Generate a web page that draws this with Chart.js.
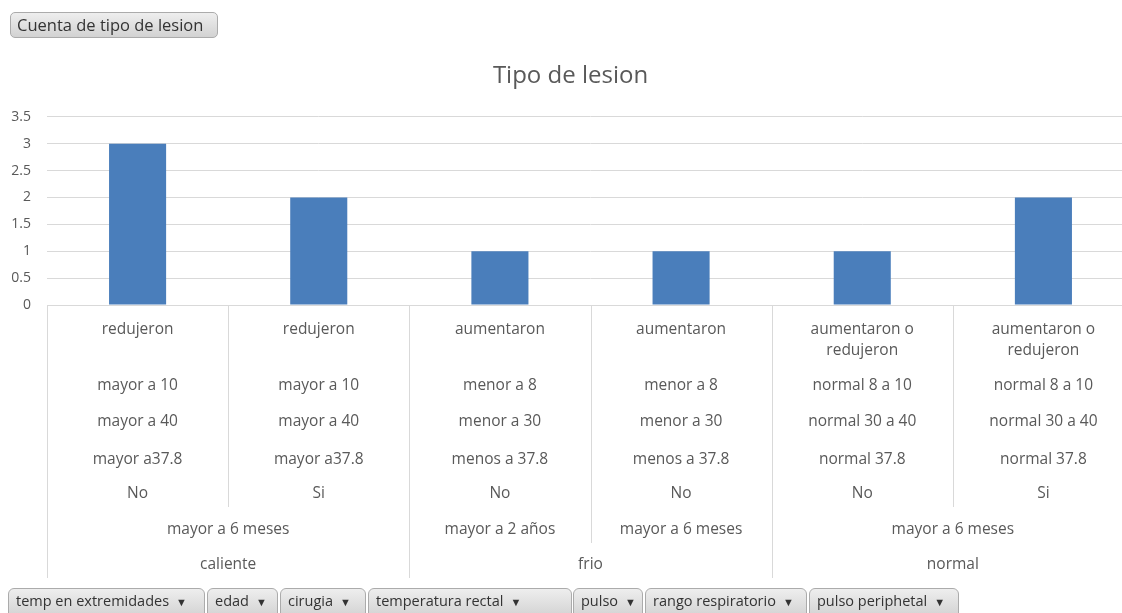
<!DOCTYPE html>
<html>
<head>
<meta charset="utf-8">
<script src="https://cdn.jsdelivr.net/npm/chart.js@4.4.0/dist/chart.umd.min.js"></script>
<style>
  html, body { margin: 0; padding: 0; background: #fff; overflow: hidden; width: 1122px; height: 613px; }
  #wrap { position: absolute; left: 0; top: 0; width: 1134px; height: 613px; }
  .btn {
    position: absolute; box-sizing: border-box; height: 26px;
    font-family: "Open Sans", sans-serif; font-size: 14px; color: #333;
    line-height: 24px; white-space: nowrap; padding: 0 7px;
    background: linear-gradient(#eeeeee, #d2d2d2);
    border: 1px solid #ababab; border-radius: 5px;
  }
  .top { font-size: 16.5px; padding: 0 6px; }
  .tab { top: 588px; height: 30px; border-radius: 6px 6px 0 0; font-size: 14.5px; }
  .tab .arr { font-size: 11px; margin-left: 7px; color: #333; }
</style>
</head>
<body>
<div id="wrap"><canvas id="chart" width="1134" height="613"></canvas></div>
<div class="btn top" style="left:10px; top:12px; width:208px;">Cuenta de tipo de lesion</div>
<div class="btn tab" style="left:8px; width:197px;">temp en extremidades<span class="arr">▼</span></div>
<div class="btn tab" style="left:207px; width:71px;">edad<span class="arr">▼</span></div>
<div class="btn tab" style="left:280px; width:86px;">cirugia<span class="arr">▼</span></div>
<div class="btn tab" style="left:368px; width:204px;">temperatura rectal<span class="arr">▼</span></div>
<div class="btn tab" style="left:573px; width:70px;">pulso<span class="arr">▼</span></div>
<div class="btn tab" style="left:645px; width:162px;">rango respiratorio<span class="arr">▼</span></div>
<div class="btn tab" style="left:809px; width:150px;">pulso periphetal<span class="arr">▼</span></div>
<script>
// category fields, outer -> inner
const tempExtremidades = ["caliente", "caliente", "frio", "frio", "normal", "normal"];
const edad = ["mayor a 6 meses", "mayor a 6 meses", "mayor a 2 años", "mayor a 6 meses", "mayor a 6 meses", "mayor a 6 meses"];
const cirugia = ["No", "Si", "No", "No", "No", "Si"];
const temperaturaRectal = ["mayor a37.8", "mayor a37.8", "menos a 37.8", "menos a 37.8", "normal 37.8", "normal 37.8"];
const pulso = ["mayor a 40", "mayor a 40", "menor a 30", "menor a 30", "normal 30 a 40", "normal 30 a 40"];
const rangoRespiratorio = ["mayor a 10", "mayor a 10", "menor a 8", "menor a 8", "normal 8 a 10", "normal 8 a 10"];
const pulsoPeriphetal = ["redujeron", "redujeron", "aumentaron", "aumentaron", "aumentaron o redujeron", "aumentaron o redujeron"];

// series
const cuenta = [3, 2, 1, 1, 1, 2];

// y ticks
const yMin = 0, yMax = 3.5, yStep = 0.5;

const levels = [tempExtremidades, edad, cirugia, temperaturaRectal, pulso, rangoRespiratorio, pulsoPeriphetal];
// offset of each level's row below the axis line
const rowOffset = [260, 225, 189, 155, 117, 81, 25];

const textColor = "#595959";
const lineColor = "#d9d9d9";
const font = '"Open Sans", sans-serif';

function wrapText(ctx, text, maxW) {
  const words = text.split(" ");
  const lines = [];
  let cur = "";
  for (const w of words) {
    const t = cur ? cur + " " + w : w;
    if (cur && ctx.measureText(t).width > maxW) { lines.push(cur); cur = w; }
    else cur = t;
  }
  lines.push(cur);
  return lines;
}

const multiLevelAxis = {
  id: "multiLevelAxis",
  afterDraw(chart) {
    const ctx = chart.ctx;
    const xs = chart.scales.x;
    const base = chart.chartArea.bottom;
    const n = cuenta.length;
    const half = (xs.getPixelForValue(1) - xs.getPixelForValue(0)) / 2;
    const edge = i => i < n ? xs.getPixelForValue(i) - half : xs.getPixelForValue(n - 1) + half;
    const key = (i, k) => levels.slice(0, k + 1).map(l => l[i]).join("|");

    ctx.save();
    ctx.font = "15.5px " + font;
    ctx.fillStyle = textColor;
    ctx.textAlign = "center";
    ctx.textBaseline = "middle";

    // labels
    levels.forEach((lvl, k) => {
      let start = 0;
      for (let i = 1; i <= n; i++) {
        if (i === n || key(i, k) !== key(start, k)) {
          const x0 = edge(start), x1 = edge(i);
          const lines = wrapText(ctx, lvl[start], (x1 - x0) - 50);
          lines.forEach((ln, j) => ctx.fillText(ln, (x0 + x1) / 2, base + rowOffset[k] + j * 21));
          start = i;
        }
      }
    });

    // separators
    ctx.strokeStyle = lineColor;
    ctx.lineWidth = 1;
    for (let b = 0; b <= n; b++) {
      let depth = 0;
      if (b > 0 && b < n) {
        depth = levels.findIndex((l, k) => key(b - 1, k) !== key(b, k));
      }
      const x = Math.round(edge(b)) + 0.5;
      ctx.beginPath();
      ctx.moveTo(x, base);
      ctx.lineTo(x, base + rowOffset[depth] + 13);
      ctx.stroke();
    }
    ctx.restore();
  }
};

new Chart(document.getElementById("chart"), {
  type: "bar",
  data: {
    labels: pulsoPeriphetal,
    datasets: [{
      label: "Total",
      data: cuenta,
      backgroundColor: "#4a7ebb",
      barPercentage: 0.315,
      categoryPercentage: 1
    }]
  },
  options: {
    responsive: false,
    animation: false,
    layout: { padding: { top: 62, left: 7, right: 0, bottom: 8 } },
    plugins: {
      legend: { display: false },
      tooltip: { enabled: false },
      title: {
        display: true,
        text: "Tipo de lesion",
        color: textColor,
        font: { family: font, size: 24, weight: "normal" },
        padding: { top: 0, bottom: 26 }
      }
    },
    scales: {
      x: {
        grid: { display: false },
        border: { display: true, color: lineColor },
        ticks: { display: false },
        afterFit: s => { s.height = 300; }
      },
      y: {
        min: yMin,
        max: yMax,
        ticks: {
          stepSize: yStep,
          color: textColor,
          padding: 16,
          font: { family: font, size: 14 },
          callback: v => String(v)
        },
        grid: { color: lineColor, drawTicks: false },
        border: { display: false },
        afterFit: s => { s.width = 40; }
      }
    }
  },
  plugins: [multiLevelAxis]
});
</script>
</body>
</html>
